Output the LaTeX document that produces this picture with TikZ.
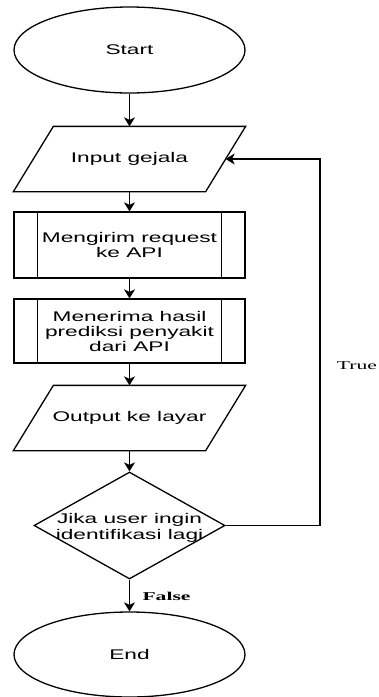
\documentclass[tikz,border=0pt]{standalone}
\usepackage{fontspec}
\setmainfont{Liberation Sans}[FakeStretch=1.62]
\newfontfamily\lblfont{Liberation Serif}[FakeStretch=1.8]
\usetikzlibrary{shapes.geometric,arrows.meta}
\begin{document}
\begin{tikzpicture}[x=1pt,y=-1pt,
  line width=1.3pt,
  every node/.style={font=\fontsize{14}{15}\selectfont},
  term/.style={ellipse,draw,minimum width=231pt,minimum height=86pt,inner sep=0pt},
  io/.style={rectangle,minimum width=191pt,minimum height=64pt,inner sep=0pt,align=center},
  proc/.style={draw,rectangle,minimum width=231pt,minimum height=64pt,inner sep=0pt,align=center},
  dec/.style={diamond,draw,minimum width=191pt,minimum height=107pt,inner sep=0pt},
  arr/.style={-{Stealth[length=9pt,width=11pt,inset=2.5pt]}},
  lbl/.style={font=\lblfont\fontsize{12}{13}\selectfont}
]
\useasboundingbox (0,0) rectangle (378,697);

\node[term] (start) at (129.5,50) {Start};
\node[io] (in) at (129.5,159) {Input gejala};
\draw ([xshift=20pt]in.north west) -- ([xshift=20pt]in.north east)
  -- ([xshift=-20pt]in.south east) -- ([xshift=-20pt]in.south west) -- cycle;
\node[proc,minimum height=66pt] (p1) at (129.5,245) {Mengirim request\\ke API};
\draw ([xshift=24pt]p1.north west) -- ([xshift=24pt]p1.south west);
\draw ([xshift=-24pt]p1.north east) -- ([xshift=-24pt]p1.south east);
\node[proc] (p2) at (129.5,331) {Menerima hasil\\prediksi penyakit\\dari API};
\draw ([xshift=24pt]p2.north west) -- ([xshift=24pt]p2.south west);
\draw ([xshift=-24pt]p2.north east) -- ([xshift=-24pt]p2.south east);
\node[io] (out) at (129.5,418) {Output ke layar};
\draw ([xshift=20pt]out.north west) -- ([xshift=20pt]out.north east)
  -- ([xshift=-20pt]out.south east) -- ([xshift=-20pt]out.south west) -- cycle;
\node[dec] (dec) at (129.5,525.5) {};
\node[align=center,inner sep=0pt,font=\fontsize{14}{16.5}\selectfont] (dect) at (129.5,528) {Jika user ingin\\identifikasi lagi};
\node[term,minimum height=85pt] (end) at (129.5,654.5) {End};

\coordinate (loopc) at (320,159);

\draw[arr] (start) -- (in);
\draw[arr] (in) -- (p1);
\draw[arr] (p1) -- (p2);
\draw[arr] (p2) -- (out);
\draw[arr] (out) -- (dec);
\draw[arr] (dec) -- (end);
\draw[arr] (dec.east) -| (loopc) -- (in.east);

\node[lbl] (tl) at (357,366) {True};
\node[lbl,font=\lblfont\fontsize{12}{13}\selectfont\bfseries] (fl) at (166.5,596) {False};
\end{tikzpicture}
\end{document}
